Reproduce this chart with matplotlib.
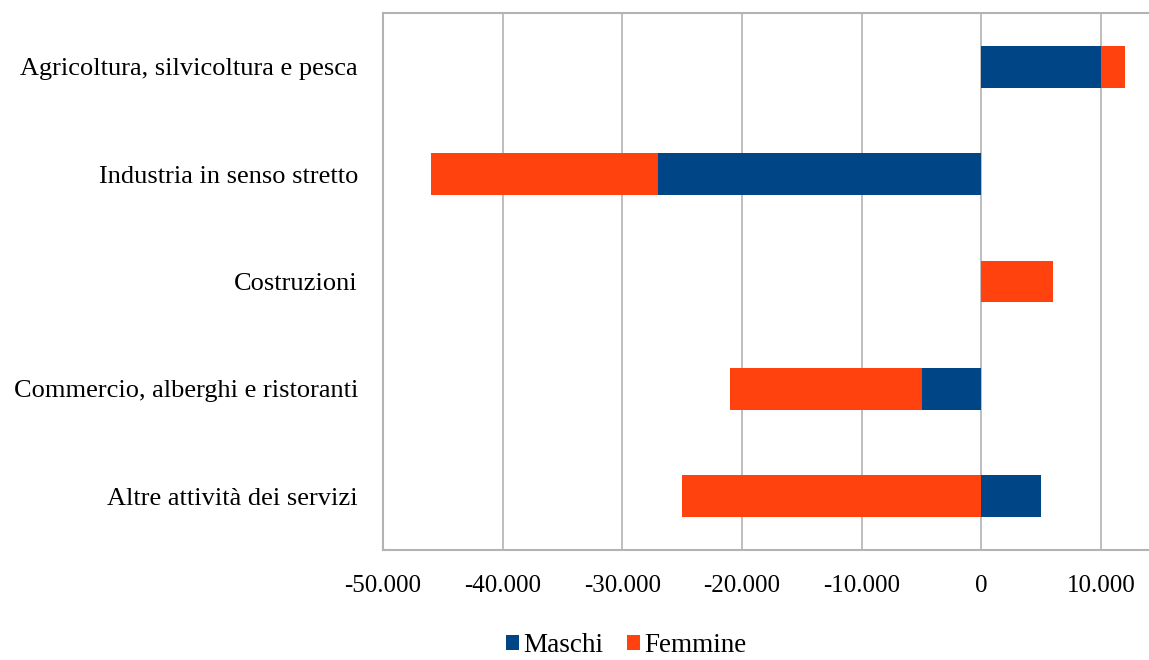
import numpy as np
import matplotlib.pyplot as plt

plt.rcParams['font.family'] = ['Liberation Serif', 'DejaVu Serif']

categories = [
    "Agricoltura, silvicoltura e pesca",
    "Industria in senso stretto",
    "Costruzioni",
    "Commercio, alberghi e ristoranti",
    "Altre attività dei servizi",
]
maschi = [10000, -27000, 0, -5000, 5000]
femmine = [2000, -19000, 6000, -16000, -25000]
series_names = ["Maschi", "Femmine"]
colors = ["#004586", "#ff420e"]
xticks = [-50000, -40000, -30000, -20000, -10000, 0, 10000]

fig = plt.figure(figsize=(11.49, 6.6), dpi=100)
ax = fig.add_axes([0.3333, 0.1667, 0.6667, 0.8136])

y = np.arange(len(categories))
pos = np.zeros(len(categories))
neg = np.zeros(len(categories))
for name, vals, c in zip(series_names, [maschi, femmine], colors):
    vals = np.array(vals, dtype=float)
    left = np.where(vals >= 0, pos, neg)  # stack positives and negatives apart
    ax.barh(y, vals, left=left, height=0.39, color=c, label=name, zorder=3)
    pos = pos + np.where(vals >= 0, vals, 0)
    neg = neg + np.where(vals < 0, vals, 0)

ax.set_ylim(len(categories) - 0.5, -0.5)
ax.set_xlim(-50000, 14000)
ax.set_yticks(y)
ax.set_yticklabels(categories, fontsize=19)
ax.set_xticks(xticks)
ax.set_xticklabels([f"{v:,}".replace(",", ".") for v in xticks], fontsize=18)
ax.tick_params(axis='y', length=0, pad=18)
ax.tick_params(axis='x', length=0, pad=18)
ax.grid(axis='x', color='#b3b3b3', linewidth=1.2, zorder=0)
for s in ['left', 'bottom', 'top']:
    ax.spines[s].set_color('#b3b3b3')
    ax.spines[s].set_linewidth(1.5)
ax.spines['right'].set_visible(False)

fig.legend(loc='center', bbox_to_anchor=(0.545, 0.022), ncol=2, frameon=False,
           fontsize=19.5, handlelength=0.48, handleheight=0.5, handletextpad=0.15,
           columnspacing=0.9, borderpad=0.1)

fig.savefig("out.png", dpi=100)
